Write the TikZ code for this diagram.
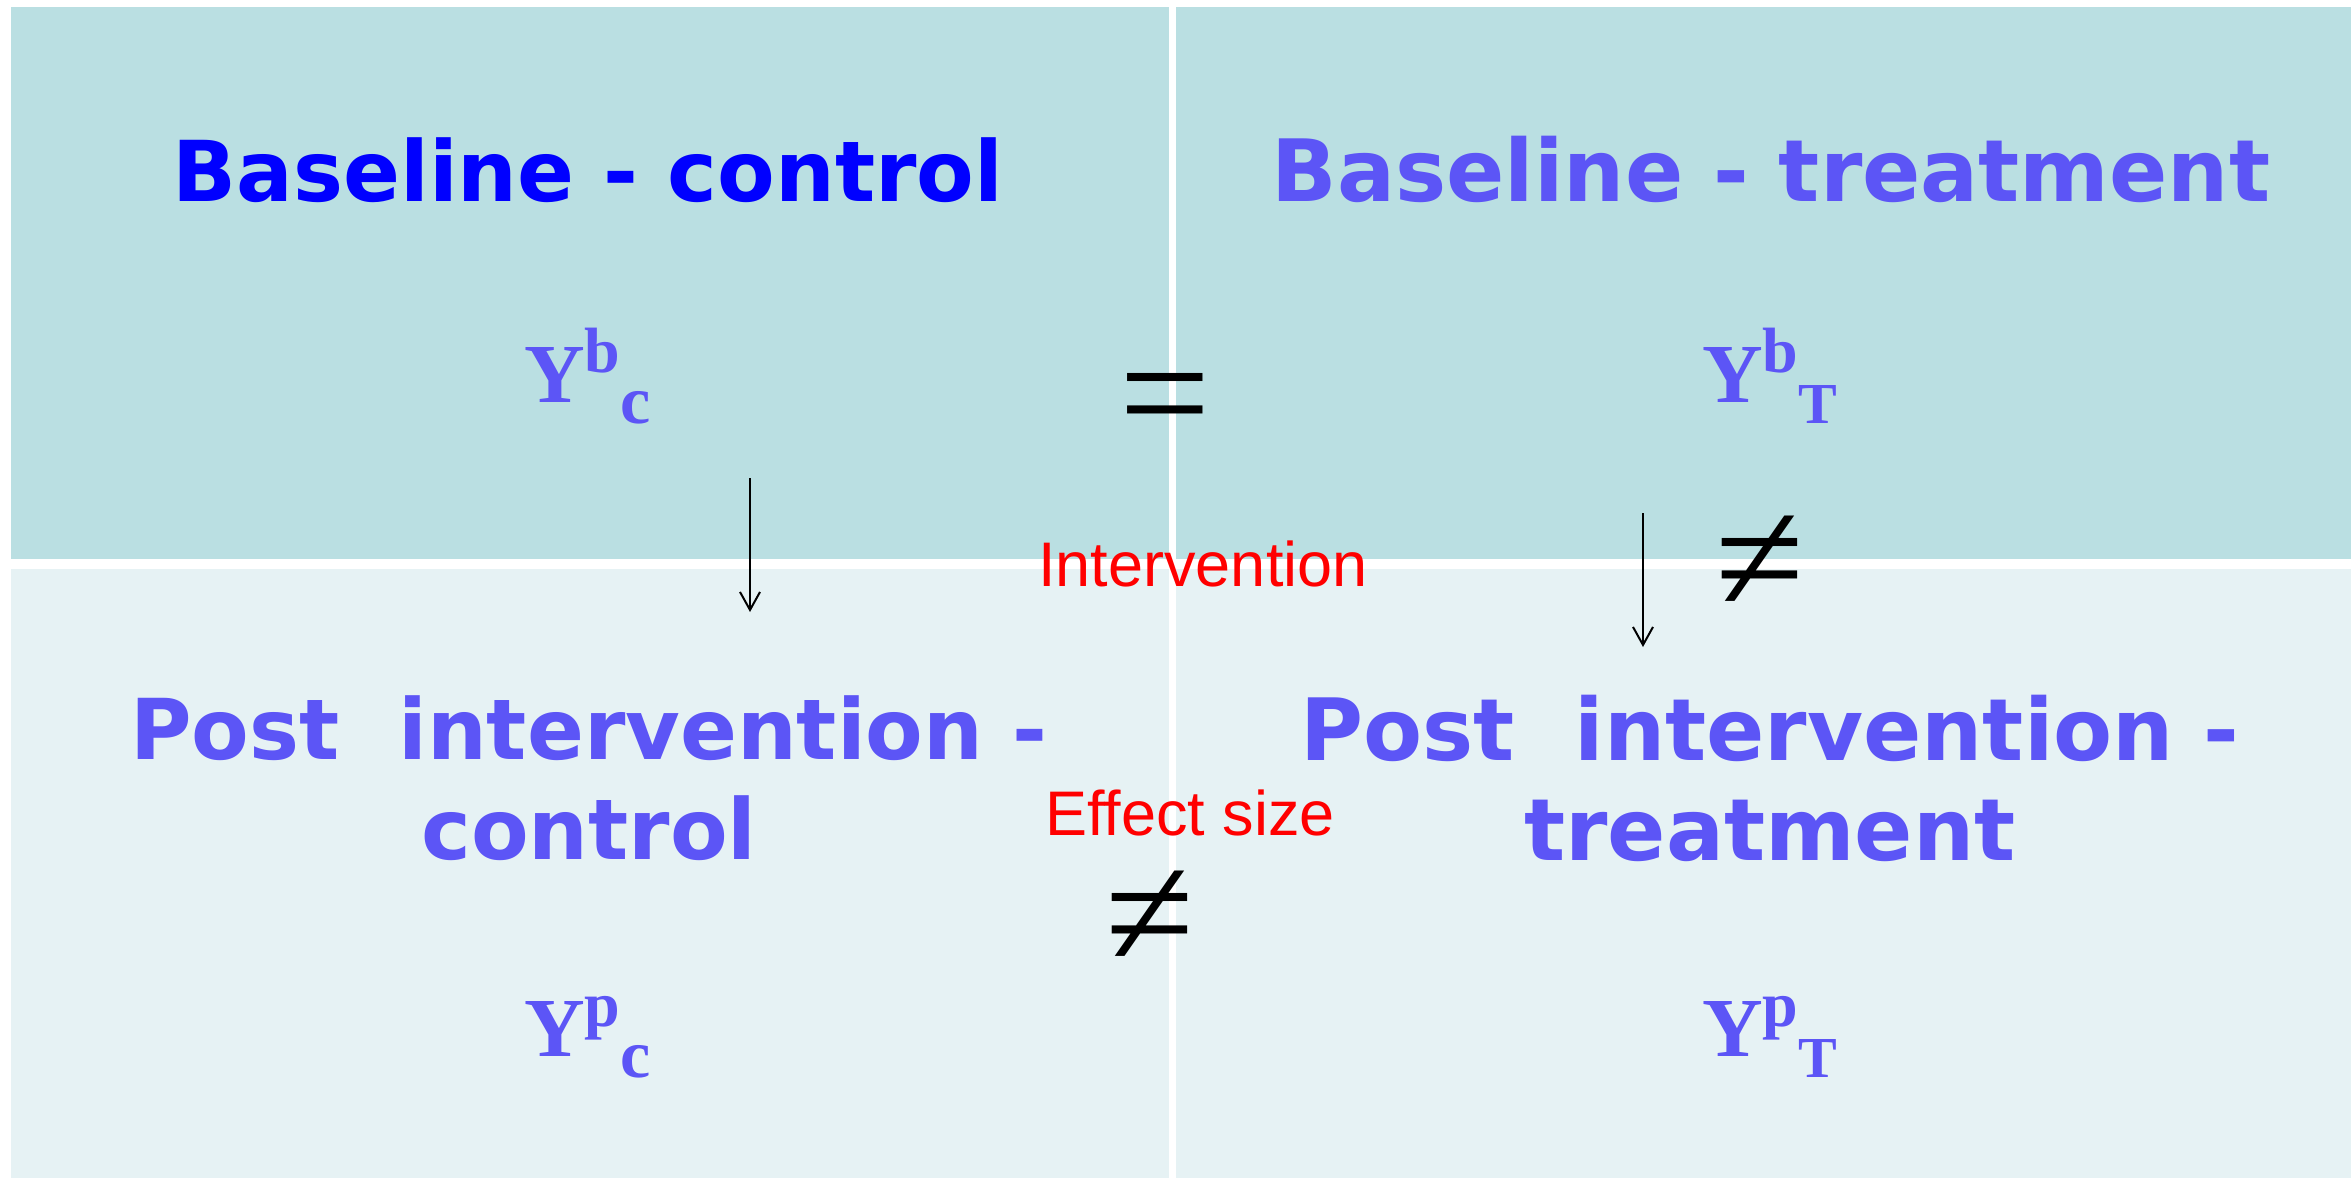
\documentclass[tikz,border=0pt]{standalone}
\usepackage{fontspec}
\usetikzlibrary{arrows.meta}
\newfontfamily\headfont{DejaVu Sans}
\newfontfamily\notefont{Liberation Sans}
\newfontfamily\serifsym{Liberation Serif}
\definecolor{topfill}{RGB}{186,223,226}
\definecolor{botfill}{RGB}{230,242,244}
\definecolor{headblue}{RGB}{0,0,255}
\definecolor{headviolet}{RGB}{92,85,246}
% outcome symbol: Y with a superscript and a following subscript
\newcommand\outcome[3]{{\fontsize{84}{84}\selectfont Y}%
  \raisebox{30pt}{\fontsize{64}{64}\selectfont #1}%
  \raisebox{-21pt}{\fontsize{#3}{#3}\selectfont #2}}
\begin{document}
\begin{tikzpicture}[x=1pt,y=-1pt,
  head/.style={font=\headfont\bfseries\fontsize{84}{100}\selectfont, inner sep=0pt},
  ylab/.style={font=\serifsym\bfseries, text=headviolet, inner sep=0pt, anchor=base west},
  note/.style={font=\notefont\fontsize{63}{63}\selectfont, text=red, inner sep=0pt, anchor=base},
  rel/.style={font=\serifsym\fontsize{162}{162}\selectfont, inner sep=0pt, anchor=center},
  flow/.style={line width=2pt, -{Straight Barb[length=18pt,width=20pt]}}]
\useasboundingbox (0,0) rectangle (2351,1178);
\fill[white] (0,0) rectangle (2351,1178);
% four quadrants
\fill[topfill] (11,7) rectangle (1169,559);
\fill[topfill] (1176,7) rectangle (2351,559);
\fill[botfill] (11,569) rectangle (1169,1178);
\fill[botfill] (1176,569) rectangle (2351,1178);
% headings
\node[head, text=headblue, anchor=base] (basectl) at (588,201) {Baseline - control};
\node[head, text=headviolet, anchor=base, font=\headfont\bfseries\fontsize{86}{100}\selectfont] (basetrt) at (1771,201) {Baseline - treatment};
\node[head, text=headviolet, align=center, anchor=center] (postctl) at (589,778) {Post\ \ intervention -\\control};
\node[head, text=headviolet, align=center, anchor=center, font=\headfont\bfseries\fontsize{86}{100}\selectfont] (posttrt) at (1770,778) {Post\ \ intervention -\\treatment};
% outcome symbols
\node[ylab] (ybc) at (524,402) {\outcome{b}{c}{68}};
\node[ylab] (ybt) at (1702,402) {\outcome{b}{T}{58}};
\node[ylab] (ypc) at (524,1056) {\outcome{p}{c}{68}};
\node[ylab] (ypt) at (1702,1056) {\outcome{p}{T}{58}};
% relations
\node[rel] (eqbase) at (1165,410) {=};
\node[rel] (netrt) at (1760,564) {≠};
\node[rel] (neeff) at (1150,919) {≠};
% red labels
\node[note] (interv) at (1203,586) {Intervention};
\node[note] (effect) at (1190,835) {Effect size};
% intervention arrows
\coordinate (ctlfrom) at (750,478);
\coordinate (ctlto) at (750,612);
\coordinate (trtfrom) at (1643,513);
\coordinate (trtto) at (1643,647);
\draw[flow] (ctlfrom) -- (ctlto);
\draw[flow] (trtfrom) -- (trtto);
\end{tikzpicture}
\end{document}
